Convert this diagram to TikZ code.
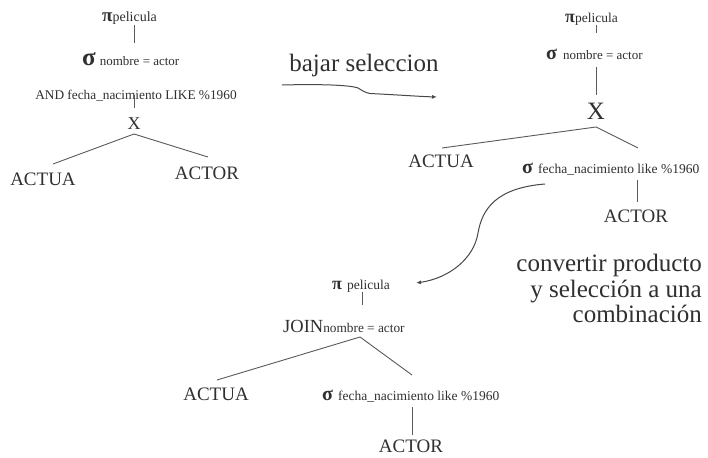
\documentclass[tikz,border=0pt]{standalone}
\usepackage{fontspec}
\setmainfont{Liberation Serif}
\usetikzlibrary{arrows.meta,calc}
\definecolor{txt}{HTML}{303030}
\definecolor{ln}{HTML}{5A5A5A}
\newcommand{\fsz}[1]{\fontsize{#1}{#1}\selectfont}
\begin{document}
\begin{tikzpicture}[x=1pt,y=-1pt,
  every node/.style={inner sep=0pt,text=txt},
  big/.style={font=\fsz{19}},
  subtxt/.style={font=\fsz{13.3}},
  biglabel/.style={font=\fsz{25}},
  edge/.style={draw=ln,line width=0.9pt},
  curvearrow/.style={draw=ln!80!black,line width=1pt,-{Latex[length=5pt,width=4pt]}}]
\useasboundingbox[fill=white] (0,0) rectangle (708,457);

% ---------- tree 1 ----------
\node[anchor=base west] (p1) at (102,22) {{\fsz{19}\bfseries π}{\fsz{14}pelicula}};
\node[anchor=base west] (s1) at (82,66) {{\fsz{25}\bfseries σ}\hspace{4pt}{\fsz{13}nombre = actor}};
\node[anchor=base,subtxt] (and1) at (136,100) {AND fecha\_nacimiento LIKE \%1960};
\node[anchor=base,font=\fsz{18}] (x1) at (134,130) {X};
\node[anchor=base,big] (a1) at (43,185) {ACTUA};
\node[anchor=base,big] (o1) at (207,179) {ACTOR};

\draw[edge] ($(p1.base west)+(32,3)$) -- ($(s1.base west)+(52,-23)$);
\draw[edge] ($(and1.base)+(-2,-5)$) -- ($(x1.base)+(0,-22)$);
\draw[edge] ($(x1.base)+(0,4)$) -- ($(a1.base)+(10,-21)$);
\draw[edge] ($(x1.base)+(0,4)$) -- ($(o1.base)+(1,-22)$);

% ---------- arrow 1 ----------
\node[anchor=base,biglabel] (b1) at (364,72) {bajar seleccion};
\coordinate (ar1s) at (282,85);
\coordinate (ar1e) at (437,97);
\draw[curvearrow] (ar1s) .. controls (320,84) and (350,85) .. (358,88)
  .. controls (362,90) and (363,92) .. (370,93.5)
  .. controls (400,95) and (420,96.5) .. (ar1e);

% ---------- tree 2 ----------
\node[anchor=base west] (p2) at (565,23) {{\fsz{18}\bfseries π}{\fsz{13.5}pelicula}};
\node[anchor=base west] (s2) at (546,60) {{\fsz{20}\bfseries σ}\hspace{6pt}{\fsz{13}nombre = actor}};
\node[anchor=base,font=\fsz{25}] (x2) at (596,120) {X};
\node[anchor=base,big] (a2) at (441,167) {ACTUA};
\node[anchor=base west] (s3) at (522,173) {{\fsz{20}\bfseries σ}\hspace{5pt}{\fsz{13.5}fecha\_nacimiento like \%1960}};
\node[anchor=base,big] (o2) at (636,222) {ACTOR};

\draw[edge] ($(p2.base west)+(31,2)$) -- ($(s2.base west)+(50,-27)$);
\draw[edge] ($(s2.base west)+(50,7)$) -- ($(x2.base)+(0,-25)$);
\draw[edge] ($(x2.base)+(0,7)$) -- ($(a2.base)+(1,-19)$);
\draw[edge] ($(x2.base)+(0,7)$) -- ($(s3.base west)+(116,-25)$);
\draw[edge] ($(s3.base west)+(115,7)$) -- ($(o2.base)+(1,-20)$);

% ---------- tree 3 ----------
\node[anchor=base west] (p3) at (332,289) {{\fsz{18}\bfseries π}\hspace{5pt}{\fsz{13.5}pelicula}};
\node[anchor=base west] (j1) at (283,332) {{\fsz{18.5}JOIN}{\fsz{13.3}nombre = actor}};
\node[anchor=base,big] (a3) at (216,400) {ACTUA};
\node[anchor=base west] (s4) at (322,400) {{\fsz{20}\bfseries σ}\hspace{5pt}{\fsz{13.5}fecha\_nacimiento like \%1960}};
\node[anchor=base,big] (o3) at (411,452) {ACTOR};

\draw[edge] ($(p3.base west)+(30,3)$) -- ($(j1.base west)+(79,-27)$);
\draw[edge] ($(j1.base west)+(77,5)$) -- ($(a3.base)+(1,-20)$);
\draw[edge] ($(j1.base west)+(77,5)$) -- ($(s4.base west)+(90,-25)$);
\draw[edge] ($(s4.base west)+(90,7)$) -- ($(o3.base)+(1,-17)$);

% ---------- arrow 2 ----------
\coordinate (mid2) at (478,233);
\draw[curvearrow] ($(s3.base west)+(23,11)$) .. controls (495,188) and (482,210) .. (mid2)
  .. controls (474,258) and (450,278) .. ($(p3.base west)+(84,-6)$);

\node[anchor=north east,biglabel,align=right] (c1) at (702,254)
  {convertir producto\\[0.5pt]y selección a una\\[0.5pt]combinación};
\end{tikzpicture}
\end{document}
